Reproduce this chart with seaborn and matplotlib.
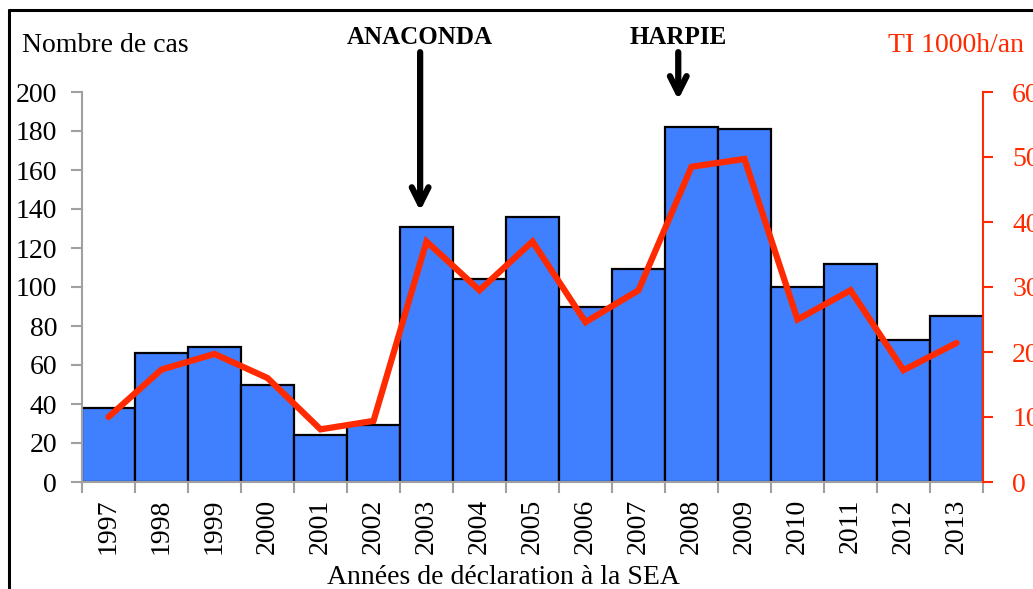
import numpy as np
import pandas as pd
import matplotlib
matplotlib.use("Agg")
import matplotlib.pyplot as plt
from matplotlib.lines import Line2D
import seaborn as sns

years = ["1997", "1998", "1999", "2000", "2001", "2002", "2003", "2004", "2005",
         "2006", "2007", "2008", "2009", "2010", "2011", "2012", "2013"]
cases = [38, 66, 69, 50, 24, 29, 131, 104, 136, 90, 109, 182, 181, 100, 112, 73, 85]
ti_rate = [10.0, 17.3, 19.7, 16.0, 8.1, 9.4, 37.0, 29.5, 37.0, 24.6, 29.5, 48.5, 49.7,
           25.0, 29.5, 17.2, 21.4]
left_ticks = [0, 20, 40, 60, 80, 100, 120, 140, 160, 180, 200]
right_ticks = [0, 10, 20, 30, 40, 50, 60]

sns.set_theme(style="white")
plt.rcParams['font.family'] = ['Liberation Serif', 'DejaVu Serif']
plt.rcParams['text.color'] = 'black'
plt.rcParams['axes.labelcolor'] = 'black'

BAR = "#4080FF"
RED = "#FF2A00"
GREY = "#A0A0A0"
FS = 20

df = pd.DataFrame({"annee": years, "cas": cases, "ti": ti_rate})
df["pos"] = np.arange(len(df))

fig = plt.figure(figsize=(10.33, 5.89), dpi=100)
ax = fig.add_axes([82/1033, 1-482/589, 901/1033, 390/589])

sns.barplot(data=df, x="annee", y="cas", color=BAR, saturation=1, width=1.0,
            edgecolor="black", linewidth=1.6, ax=ax, zorder=2)
ax.set_xlim(-0.5, len(years) - 0.5)
ax.set_ylim(0, 200)
ax.set_yticks(left_ticks)
ax.tick_params(axis="y", which="major", direction="out", length=8, width=1.5,
               color=GREY, pad=10, labelsize=FS, left=True, labelcolor="black")
ax.tick_params(axis="x", which="major", length=0, pad=12, labelsize=FS,
               labelrotation=90, labelcolor="black")
ax.set_xticks(np.arange(-0.5, len(years)), minor=True)
ax.tick_params(axis="x", which="minor", direction="out", length=8, width=1.5,
               color=GREY, bottom=True)
for s in ["top", "right"]:
    ax.spines[s].set_visible(False)
ax.spines["left"].set_color(GREY)
ax.spines["left"].set_linewidth(1.5)
ax.spines["bottom"].set_color(GREY)
ax.spines["bottom"].set_linewidth(1.5)
ax.grid(False)

ax.set_xlabel("Années de déclaration à la SEA", fontsize=FS)
ax.xaxis.set_label_coords((503-82)/901, (482-578)/390)
ax.xaxis.label.set_verticalalignment("center")
ax.set_ylabel("Nombre de cas", fontsize=FS, rotation=0, ha="left", va="center")
ax.yaxis.set_label_coords((22-82)/901, (482-46)/390)

ax2 = ax.twinx()
sns.lineplot(data=df, x="pos", y="ti", color=RED, linewidth=4.5, ax=ax2,
             solid_joinstyle="miter", solid_capstyle="round", zorder=3)
ax2.set_ylim(0, 60)
ax2.set_yticks(right_ticks)
ax2.set_xlim(-0.5, len(years) - 0.5)
ax2.tick_params(axis="y", direction="out", length=7, width=1.5, color=RED,
                labelcolor=RED, labelsize=FS, pad=14, right=True)
for s in ["top", "left", "bottom"]:
    ax2.spines[s].set_visible(False)
ax2.spines["right"].set_color(RED)
ax2.spines["right"].set_linewidth(1.5)
ax2.grid(False)
ax2.set_ylabel("TI 1000h/an", fontsize=FS, color=RED, rotation=0, ha="left", va="center")
ax2.yaxis.set_label_coords((888-82)/901, (482-46)/390)

# event annotations
arrow = dict(arrowstyle="->", lw=4.5, color="black", mutation_scale=30,
             shrinkA=0, shrinkB=0)
ax.annotate("ANACONDA", xy=(years.index("2003") - 0.12, 139),
            xytext=(years.index("2003") - 0.12, 228), textcoords="data",
            ha="center", va="center", fontsize=18, fontweight="bold", color="black",
            arrowprops=arrow, annotation_clip=False)
ax.annotate("HARPIE", xy=(years.index("2008") - 0.25, 196),
            xytext=(years.index("2008") - 0.25, 228), textcoords="data",
            ha="center", va="center", fontsize=18, fontweight="bold", color="black",
            arrowprops=arrow, annotation_clip=False)

# frame of the original slide
fig.add_artist(Line2D([9/1033, 9/1033], [0, 1-10/589], color="black", lw=2.2))
fig.add_artist(Line2D([9/1033, 1], [1-10/589, 1-10/589], color="black", lw=2.2))

fig.savefig("out.png", dpi=100)
